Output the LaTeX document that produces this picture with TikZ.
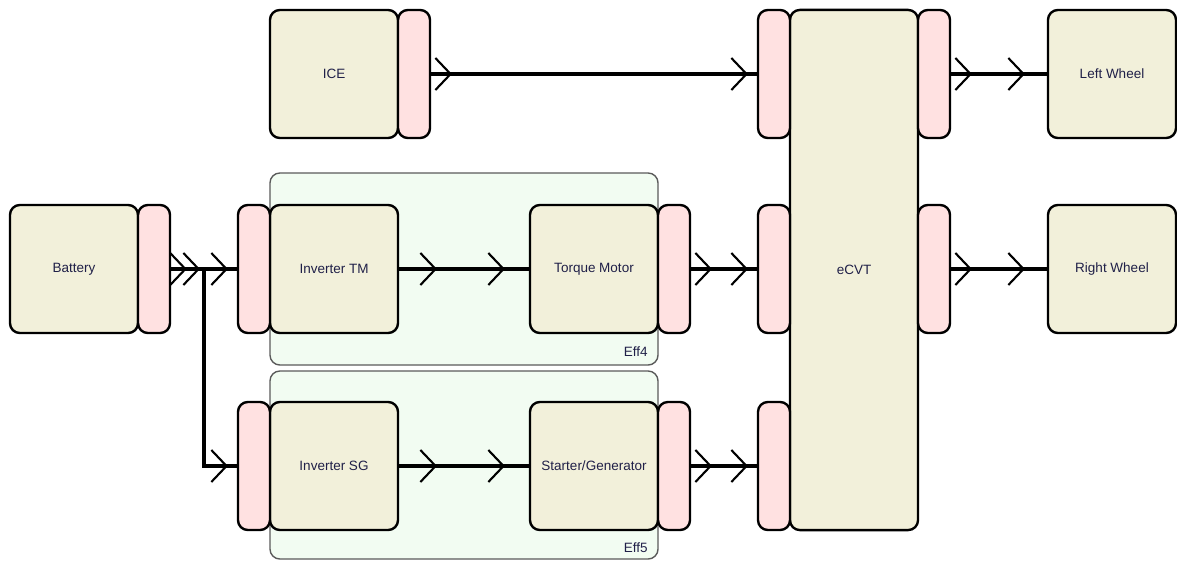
\documentclass[tikz,border=0pt]{standalone}
\usepackage{fontspec}
\setmainfont{Liberation Sans}
\usepackage{tikz}
\usetikzlibrary{positioning, arrows.meta, decorations.markings}
\definecolor{blockfill}{HTML}{F2F0DA}
\definecolor{portfill}{HTML}{FFE1E1}
\definecolor{groupfill}{HTML}{F2FCF2}
\definecolor{groupline}{HTML}{5A5A5A}
\definecolor{labeltext}{HTML}{202048}

\tikzset{
  block/.style={draw, line width=1.7pt, fill=blockfill, rounded corners=7pt,
    minimum width=3.2cm, minimum height=3.2cm, inner sep=0pt, outer sep=0pt,
    text=labeltext, font=\fontsize{9.6}{11}\selectfont},
  port/.style={draw, line width=1.7pt, fill=portfill, rounded corners=7pt,
    minimum width=0.8cm, minimum height=3.2cm, inner sep=0pt, outer sep=0pt},
  group/.style={draw=groupline, line width=1pt, fill=groupfill, rounded corners=7pt},
  grouplabel/.style={anchor=south east, inner sep=0pt, text=labeltext,
    font=\fontsize{9.6}{11}\selectfont},
  chev/.tip={Straight Barb[length=0.38cm, width=0.8cm, line width=1.5pt]},
  wire/.style={line width=2.6pt},
  flow/.style 2 args={
    decoration={markings,
      mark=at position #1 with {\arrow{chev}},
      mark=at position #2 with {\arrow{chev}}},
    postaction={decorate}},
}

\begin{document}
\begin{tikzpicture}[x=0.025cm, y=-0.025cm]
  \useasboundingbox (0,0) rectangle (1177,561);

  % efficiency groups
  \draw[group] (270,173) rectangle (658,365);
  \draw[group] (270,371) rectangle (658,559);
  \node[grouplabel] (effTM) at (648,357) {Eff4};
  \node[grouplabel] (effSG) at (648,553) {Eff5};

  % engine
  \node[block] (ice) at (334,74) {ICE};
  \node[port, right=0pt of ice] (iceOut) {};

  % battery and electric path
  \node[block] (battery) at (74,269) {Battery};
  \node[port, right=0pt of battery] (batOut) {};

  \node[block] (invTM) at (334,269) {Inverter TM};
  \node[port, left=0pt of invTM] (invTMIn) {};
  \node[block] (motorTM) at (594,269) {Torque Motor};
  \node[port, right=0pt of motorTM] (motorTMOut) {};

  \node[block] (invSG) at (334,466) {Inverter SG};
  \node[port, left=0pt of invSG] (invSGIn) {};
  \node[block] (motorSG) at (594,466) {Starter/Generator};
  \node[port, right=0pt of motorSG] (motorSGOut) {};

  % transmission
  \node[block, minimum height=13cm] (ecvt) at (854,270) {eCVT};
  \node[port] (ecvtIn1) at (774,74) {};
  \node[port] (ecvtIn2) at (774,269) {};
  \node[port] (ecvtIn3) at (774,466) {};
  \node[port] (ecvtOut1) at (934,74) {};
  \node[port] (ecvtOut2) at (934,269) {};

  % wheels
  \node[block] (wheelL) at (1112,74) {Left Wheel};
  \node[block] (wheelR) at (1112,269) {Right Wheel};

  % connections
  \coordinate (split) at (204,269);
  \draw[wire, flow={0.55cm}{-0.25cm}] (iceOut.east) -- (ecvtIn1.west);
  \draw[wire, flow={0.42cm}{-0.25cm}] (batOut.east) -- (invTMIn.west);
  \draw[wire, flow={0.75cm}{-0.25cm}] (batOut.east) -- (split) |- (invSGIn.west);
  \draw[wire, flow={0.975cm}{-0.625cm}] (invTM.east) -- (motorTM.west);
  \draw[wire, flow={0.975cm}{-0.625cm}] (invSG.east) -- (motorSG.west);
  \draw[wire, flow={0.55cm}{-0.25cm}] (motorTMOut.east) -- (ecvtIn2.west);
  \draw[wire, flow={0.55cm}{-0.25cm}] (motorSGOut.east) -- (ecvtIn3.west);
  \draw[wire, flow={0.55cm}{-0.575cm}] (ecvtOut1.east) -- (wheelL.west);
  \draw[wire, flow={0.55cm}{-0.575cm}] (ecvtOut2.east) -- (wheelR.west);
\end{tikzpicture}
\end{document}
